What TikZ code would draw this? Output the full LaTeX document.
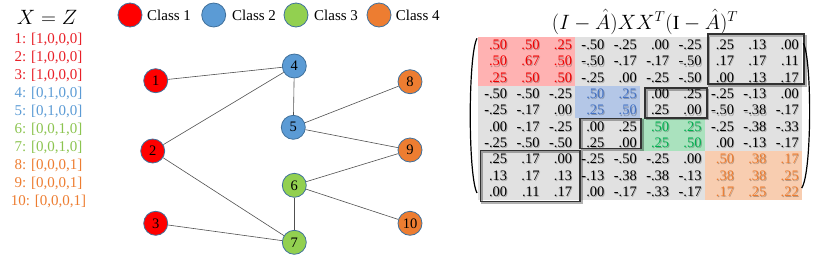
\documentclass[tikz,border=0pt]{standalone}
\usepackage{fontspec}
\setmainfont{Liberation Serif}
\definecolor{cRed}{RGB}{255,0,0}
\definecolor{cBlue}{RGB}{91,155,213}
\definecolor{cGreen}{RGB}{146,208,80}
\definecolor{cOrange}{RGB}{237,125,49}
\definecolor{cEdge}{RGB}{65,113,156}
\definecolor{tRed}{RGB}{232,32,40}
\definecolor{tBlue}{RGB}{91,155,213}
\definecolor{tGreen}{RGB}{140,196,80}
\definecolor{tOrange}{RGB}{237,125,49}
\definecolor{bgGray}{RGB}{225,225,225}
\definecolor{fRed}{RGB}{255,178,178}
\definecolor{fBlue}{RGB}{180,199,231}
\definecolor{fGreen}{RGB}{170,226,190}
\definecolor{fOrange}{RGB}{248,205,176}
\definecolor{blk0}{RGB}{240,0,0}
\definecolor{blk1}{RGB}{68,114,196}
\definecolor{blk2}{RGB}{0,176,80}
\definecolor{blk3}{RGB}{237,125,49}
\definecolor{boxc}{RGB}{50,50,50}
\begin{document}
\begin{tikzpicture}[x=1pt,y=-1pt,
  gnode/.style={circle,draw=cEdge,line width=0.8pt,minimum size=24pt,inner sep=0pt,font=\fontsize{14.5}{16}\selectfont},
  gedge/.style={draw={rgb,255:red,80;green,80;blue,80},line width=0.6pt},
  lbl/.style={font=\fontsize{15}{18}\selectfont,inner sep=0pt},
  cell/.style={anchor=east,inner sep=0pt,font=\fontsize{14.5}{16}\selectfont},
  blackbox/.style={draw=boxc,line width=1.8pt},
  boxshadow/.style={draw=black,opacity=0.3,line width=2pt}]
\useasboundingbox (0,0) rectangle (830,263);

% ---- left list
\node[lbl] (xz) at (47,17) {\fontsize{20}{22}\selectfont $X=Z$};
\foreach \t/\c [count=\i] in {{1: [1,0,0,0]}/tRed,{2: [1,0,0,0]}/tRed,{3: [1,0,0,0]}/tRed,{4: [0,1,0,0]}/tBlue,{5: [0,1,0,0]}/tBlue,{6: [0,0,1,0]}/tGreen,{7: [0,0,1,0]}/tGreen,{8: [0,0,0,1]}/tOrange,{9: [0,0,0,1]}/tOrange,{10: [0,0,0,1]}/tOrange}{
  \node[lbl,text=\c] (x\i) at (48.5,{39.3+18*(\i-1)}) {\t};
}

% ---- legend
\node[gnode,fill=cRed] (l1) at (130,15) {};
\node[lbl,anchor=west] (lt1) at (147,15) {Class 1};
\node[gnode,fill=cBlue] (l2) at (213.7,15) {};
\node[lbl,anchor=west] (lt2) at (232,15) {Class 2};
\node[gnode,fill=cGreen] (l3) at (296,15) {};
\node[lbl,anchor=west] (lt3) at (314,15) {Class 3};
\node[gnode,fill=cOrange] (l4) at (379,15) {};
\node[lbl,anchor=west] (lt4) at (395.7,15) {Class 4};

% ---- graph
\node[gnode,fill=cRed] (n1) at (155.7,80.7) {1};
\node[gnode,fill=cRed] (n2) at (152.7,151) {2};
\node[gnode,fill=cRed] (n3) at (155.7,223.3) {3};
\node[gnode,fill=cBlue] (n4) at (294.3,66) {4};
\node[gnode,fill=cBlue] (n5) at (293.3,127.3) {5};
\node[gnode,fill=cGreen] (n6) at (294.3,185.3) {6};
\node[gnode,fill=cGreen] (n7) at (294.3,242.3) {7};
\node[gnode,fill=cOrange] (n8) at (410,81.7) {8};
\node[gnode,fill=cOrange] (n9) at (410,150) {9};
\node[gnode,fill=cOrange] (n10) at (410,223.3) {10};
\foreach \a/\b in {n1/n4,n2/n4,n2/n7,n3/n7,n4/n5,n5/n8,n5/n9,n6/n9,n6/n10,n6/n7}
  \draw[gedge] (\a) -- (\b);

% ---- title
\node (title) at (645,22) {\fontsize{20}{22}\selectfont $(I-\hat{A})XX^{T}(\mathrm{I}-\hat{A})^{T}$};

% ---- matrix backgrounds
\fill[bgGray] (478,36.7) rectangle (802,200);
\fill[fRed] (478,36.7) rectangle (575.2,85.7);
\fill[fBlue] (575.2,85.7) rectangle (640,118.3);
\fill[fGreen] (640,118.3) rectangle (704.8,151);
\fill[fOrange] (704.8,151) rectangle (802,200);

% ---- matrix values
\foreach \row [count=\r] in {
 {.50,.50,.25,-.50,-.25,.00,-.25,.25,.13,.00},
 {.50,.67,.50,-.50,-.17,-.17,-.50,.17,.17,.11},
 {.25,.50,.50,-.25,.00,-.25,-.50,.00,.13,.17},
 {-.50,-.50,-.25,.50,.25,.00,.25,-.25,-.13,.00},
 {-.25,-.17,.00,.25,.50,.25,.00,-.50,-.38,-.17},
 {.00,-.17,-.25,.00,.25,.50,.25,-.25,-.38,-.33},
 {-.25,-.50,-.50,.25,.00,.25,.50,.00,-.13,-.17},
 {.25,.17,.00,-.25,-.50,-.25,.00,.50,.38,.17},
 {.13,.17,.13,-.13,-.38,-.38,-.13,.38,.38,.25},
 {.00,.11,.17,.00,-.17,-.33,-.17,.17,.25,.22}}{
  \foreach \v [count=\c] in \row {
    \pgfmathtruncatemacro\br{(\r>3)+(\r>5)+(\r>7)}
    \pgfmathtruncatemacro\bc{(\c>3)+(\c>5)+(\c>7)}
    \ifnum\br=\bc \def\tc{blk\br}\else\def\tc{black}\fi
    \node[cell,text=black,opacity=0.25] (ms-\r-\c) at ({478+32.4*\c-3+0.9},{36.7+16.33*(\r-0.5)+1.1}) {\v};
    \node[cell,text=\tc] (m-\r-\c) at ({478+32.4*\c-3},{36.7+16.33*(\r-0.5)}) {\v};
  }
}

% ---- boxes
\draw[boxshadow] (709.2,36) rectangle (805.5,85.7);
\draw[blackbox] (707.7,34.3) rectangle (804,84);
\draw[boxshadow] (646.5,89.5) rectangle (708.2,119.2);
\draw[blackbox] (645,88) rectangle (706.7,117.7);
\draw[boxshadow] (581.5,120) rectangle (642.5,150);
\draw[blackbox] (580,118.5) rectangle (641,148.5);
\draw[boxshadow] (482,152) rectangle (581.5,203);
\draw[blackbox] (480.5,150.5) rectangle (580,201.5);

% ---- parentheses
\draw[line width=1.2pt] (477,38.3) .. controls (468,55) and (468,176) .. (477,193);
\draw[line width=1.2pt] (803.3,43.3) .. controls (812,58) and (812,173) .. (801.7,188);
\end{tikzpicture}
\end{document}
